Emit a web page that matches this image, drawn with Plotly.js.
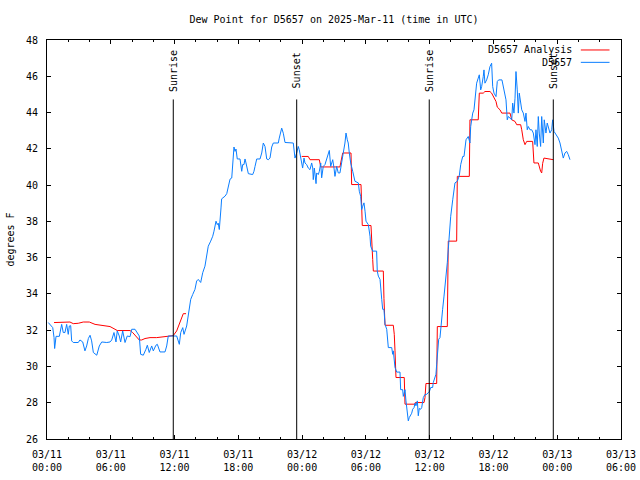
<!DOCTYPE html>
<html>
<head>
<meta charset="utf-8">
<script src="https://cdn.plot.ly/plotly-3.0.1.min.js"></script>
<style>html,body{margin:0;padding:0;background:#fff;}#chart{width:640px;height:480px;}</style>
</head>
<body>
<div id="chart"></div>
<script>
// Hours since 2025-03-11 00:00 UTC
const obsHours = [0.12,0.54,0.66,0.72,0.85,1.16,1.38,1.53,1.69,1.85,2.00,2.10,2.23,2.32,2.47,2.94,3.10,3.36,3.57,3.73,3.89,4.05,4.20,4.36,4.68,4.92,5.15,5.62,5.93,6.09,6.30,6.49,6.61,6.80,6.93,7.12,7.34,7.55,7.81,7.97,8.28,8.44,8.68,8.81,9.06,9.31,9.44,9.62,9.85,10.00,10.25,10.38,10.63,11.10,11.26,11.41,11.73,11.95,12.20,12.45,12.58,12.77,12.89,13.14,13.39,13.52,13.71,13.92,14.08,14.23,14.46,14.65,14.86,14.96,15.08,15.17,15.40,15.59,15.71,15.80,15.90,16.02,16.11,16.21,16.27,16.37,16.43,16.75,16.91,17.06,17.22,17.38,17.47,17.59,17.69,17.78,17.90,18.16,18.32,18.41,18.53,18.63,18.72,18.84,18.94,19.35,19.47,19.57,19.73,20.04,20.20,20.35,20.51,20.67,20.82,20.98,21.14,21.29,21.76,21.85,22.08,22.23,22.39,23.17,23.33,23.49,23.64,23.73,23.96,24.05,24.18,24.27,24.43,24.58,24.74,24.90,25.00,25.05,25.15,25.31,25.37,25.52,25.62,25.75,25.84,25.94,25.99,26.15,26.31,26.46,26.56,26.69,26.88,27.00,27.09,27.25,27.40,27.56,27.72,27.87,28.03,28.13,28.25,28.34,28.44,28.57,28.76,28.88,28.97,29.29,29.38,29.51,29.60,29.70,29.82,29.92,30.01,30.23,30.39,30.45,30.64,31.01,31.07,31.17,31.33,31.49,31.58,31.70,31.80,31.96,32.11,32.43,32.52,32.58,32.64,32.74,32.90,33.21,33.27,33.46,33.52,33.68,33.77,33.84,33.89,33.99,34.08,34.21,34.31,34.40,34.53,34.62,34.71,34.84,34.93,35.02,35.15,35.25,35.40,35.56,35.72,35.87,35.96,36.10,36.28,36.34,36.50,36.59,36.66,36.75,36.85,36.97,37.13,37.22,37.35,37.44,37.54,37.66,37.75,37.85,37.98,38.17,38.29,38.38,38.60,38.79,38.92,39.11,39.23,39.32,39.42,39.63,39.79,39.86,40.05,40.17,40.26,40.36,40.42,40.57,40.67,40.80,40.89,41.04,41.11,41.20,41.36,41.51,41.67,41.83,41.93,42.05,42.24,42.36,42.49,42.80,42.93,43.09,43.18,43.30,43.40,43.56,43.72,43.81,43.93,44.03,44.12,44.24,44.34,44.43,44.56,44.66,44.81,44.97,45.06,45.18,45.28,45.44,45.60,45.75,45.91,46.00,46.12,46.22,46.31,46.44,46.54,46.69,46.78,46.94,47.06,47.16,47.32,47.48,47.57,47.70,47.95,48.10,48.26,48.42,48.57,48.73,48.89,49.04,49.20];
const obsDew = [32.42,32.14,31.6,30.99,31.66,31.66,32.32,31.87,31.87,32.32,31.77,32.23,32.25,31.41,31.32,31.32,31.46,31.35,30.86,31.13,31.54,31.72,31.41,30.77,30.62,31.13,31.35,31.32,31.35,31.46,31.87,31.35,31.96,31.68,31.35,31.96,31.32,31.68,31.64,32.05,32.05,31.87,31.68,30.67,30.62,30.95,31.17,30.77,31.13,30.86,31.17,31.22,30.8,30.8,31.13,31.68,31.68,31.72,31.68,31.22,31.87,32.14,31.77,32.23,33.15,33.7,33.97,34.25,34.71,34.8,34.63,35.17,35.53,35.9,36.36,36.63,36.91,37.18,37.46,37.73,38.01,37.82,37.9,37.55,38.28,38.74,39.24,39.39,39.53,39.93,40.33,40.39,40.94,42.1,41.86,41.99,41.44,41.44,40.76,41.13,41.13,41.44,41.22,40.76,40.63,40.58,40.76,41.03,41.44,41.44,41.77,42.32,42.13,41.44,41.4,41.49,42.1,42.32,42.32,42.59,43.14,42.86,42.35,42.32,41.49,41.77,42.13,41.95,41.03,40.94,41.49,41.22,41.13,40.94,40.85,41.22,40.94,40.3,40.94,40.08,40.67,40.58,40.76,41.22,40.4,40.76,41.03,41.13,41.4,41.77,41.91,41.03,41.4,40.94,40.48,41.03,40.67,40.67,41.4,41.77,42.32,42.87,42.5,42.32,41.77,41.22,40.76,40.48,40.21,40.12,39.66,39.38,38.65,38.83,39.02,38.56,38.01,37.82,37.18,36.63,36.36,36.36,35.26,34.98,34.8,33.7,33.15,33.15,32.32,32.05,31.04,31.04,30.67,30.86,30.4,29.94,29.69,29.69,28.72,28.72,28.35,28.72,28.1,27.83,27.46,27.0,27.18,27.28,27.42,27.64,27.73,27.97,27.83,28.1,27.28,27.68,27.64,27.73,28.28,28.46,28.46,28.56,28.59,28.84,28.84,29.11,29.39,29.57,30.12,30.95,31.5,31.59,32.78,33.15,33.88,34.34,34.98,35.72,36.45,37.55,38.28,39.19,39.66,40.12,40.21,40.52,41.13,41.58,41.58,42.13,42.5,42.68,42.32,43.23,43.97,44.15,44.7,44.88,45.62,45.9,46.08,45.25,45.43,45.98,46.35,45.62,45.8,46.08,46.53,46.72,45.43,45.07,44.88,45.71,45.8,45.8,45.43,45.07,44.7,43.6,43.78,43.69,43.6,44.52,43.97,44.79,46.26,45.25,43.97,45.07,44.52,44.15,43.97,43.51,43.97,43.05,43.23,43.05,43.05,42.87,42.23,43.05,42.13,43.78,42.87,42.13,43.78,42.32,43.6,42.87,43.42,43.23,42.87,43.05,43.6,42.96,42.68,42.59,42.32,41.86,41.49,41.77,41.86,41.68,41.4];

const anaHours = [0.66,1.22,1.32,2.16,2.47,2.94,3.41,3.98,4.52,5.30,5.93,6.40,6.61,7.81,8.06,8.68,8.91,9.22,9.69,10.32,11.41,11.88,12.20,12.51,12.82,13.08,18.0,23.96,24.58,24.74,25.62,25.75,27.56,27.63,27.82,28.60,28.66,29.54,29.66,30.48,30.55,30.64,30.70,31.64,31.70,31.80,32.58,32.67,32.74,32.83,33.61,33.68,34.62,34.65,35.47,35.56,35.65,36.66,36.72,37.66,37.75,38.54,38.60,39.73,39.79,40.57,40.67,41.04,41.20,41.67,41.83,41.99,42.24,42.36,42.62,42.78,43.56,43.72,44.03,44.19,44.56,44.66,44.81,44.97,45.13,45.69,45.75,45.81,46.22,46.31,46.44,46.54,46.63,46.75,47.63];
const anaDew = [32.42,32.42,32.45,32.45,32.36,32.38,32.45,32.45,32.32,32.27,32.2,32.05,31.98,31.98,31.87,31.46,31.46,31.54,31.59,31.59,31.64,31.7,31.96,32.42,32.91,32.91,null,41.58,41.58,41.4,41.4,41.0,41.0,41.22,41.77,41.77,40.03,40.03,37.77,37.77,36.45,35.9,35.26,35.26,33.74,32.27,32.27,31.77,30.86,29.39,29.39,27.92,27.92,28.01,28.01,28.28,29.06,29.06,32.2,32.2,36.91,36.91,40.48,40.48,43.6,43.6,45.07,45.07,45.16,45.16,45.07,44.88,44.61,44.3,44.15,43.97,43.97,43.6,43.51,43.33,43.33,43.05,42.5,42.23,42.41,42.41,41.58,41.22,41.22,40.94,40.76,40.67,41.2,41.49,41.4];

const eventHours = [11.88, 23.49, 35.96, 47.63];
const eventLabels = ['Sunrise', 'Sunset', 'Sunrise', 'Sunset'];

const seriesNames = ['D5657 Analysis', 'D5657'];
const seriesColors = ['#ff0000', '#0a7eff'];

const t0 = Date.UTC(2025, 2, 11, 0, 0, 0);
const HOUR = 3600000;
const toTime = h => t0 + h * HOUR;

const FONT = {family: 'DejaVu Sans Mono, Liberation Mono, monospace', size: 10, color: '#000'};

const traces = [
  {x: anaHours.map(toTime), y: anaDew, mode: 'lines', name: seriesNames[0],
   line: {color: seriesColors[0], width: 1}, connectgaps: false, showlegend: false, hoverinfo: 'skip'},
  {x: obsHours.map(toTime), y: obsDew, mode: 'lines', name: seriesNames[1],
   line: {color: seriesColors[1], width: 1}, showlegend: false, hoverinfo: 'skip'}
];

const shapes = eventHours.map(h => ({
  type: 'line', xref: 'x', yref: 'paper', x0: toTime(h), x1: toTime(h), y0: 0, y1: 0.851,
  line: {color: '#000', width: 1}
}));
const annotations = eventHours.map((h, i) => ({
  x: toTime(h), xref: 'x', y: 0.923, yref: 'paper', text: eventLabels[i], textangle: -90,
  showarrow: false, xanchor: 'center', yanchor: 'middle', font: FONT
}));

// legend drawn on the right side: label then line sample
const legY = [0.975, 0.944];
seriesNames.forEach((n, i) => {
  annotations.push({x: 0.918, xref: 'paper', y: legY[i], yref: 'paper', text: n, showarrow: false,
    xanchor: 'right', yanchor: 'middle', font: FONT});
  shapes.push({type: 'line', xref: 'paper', yref: 'paper', x0: 0.930, x1: 0.980, y0: legY[i], y1: legY[i],
    line: {color: seriesColors[i], width: 1}});
});

const layout = {
  width: 640, height: 480,
  margin: {l: 47, r: 19, t: 40, b: 41, pad: 0},
  paper_bgcolor: '#fff', plot_bgcolor: '#fff',
  font: FONT,
  showlegend: false,
  title: {text: 'Dew Point for D5657 on 2025-Mar-11 (time in UTC)', x: 0.5, xref: 'paper', xanchor: 'center',
          y: 1 - 19/480, yref: 'container', yanchor: 'middle', font: FONT},
  xaxis: {
    type: 'date', range: [t0, toTime(54)], tick0: t0, dtick: 6 * HOUR,
    tickformat: '%m/%d<br>%H:%M', ticks: 'inside', ticklen: 4, tickcolor: '#000',
    showline: true, linecolor: '#000', linewidth: 1, mirror: 'ticks',
    showgrid: false, zeroline: false, ticklabelstandoff: 6,
    minor: {dtick: 2 * HOUR, ticks: 'inside', ticklen: 2, tickcolor: '#000', showgrid: false},
    tickfont: FONT, fixedrange: true
  },
  yaxis: {
    range: [26, 48], dtick: 2, tick0: 26, ticks: 'inside', ticklen: 4, tickcolor: '#000',
    showline: true, linecolor: '#000', linewidth: 1, mirror: 'ticks',
    showgrid: false, zeroline: false, ticklabelstandoff: 6,
    title: {text: 'degrees F', font: FONT, standoff: 9},
    tickfont: FONT, fixedrange: true
  },
  shapes: shapes,
  annotations: annotations
};

Plotly.newPlot('chart', traces, layout, {staticPlot: true, displayModeBar: false});
</script>
</body>
</html>
